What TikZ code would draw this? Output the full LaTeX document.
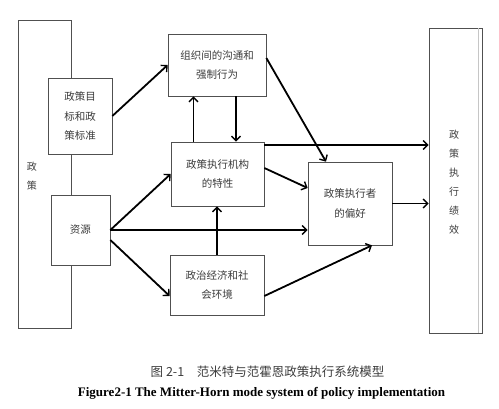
\documentclass[tikz,border=0pt]{standalone}
\usepackage{fontspec}
\setmainfont{Liberation Serif}
\newfontfamily\cjk{Noto Sans CJK SC}
\definecolor{boxgray}{RGB}{80, 80, 80}
\definecolor{txtgray}{RGB}{60, 60, 60}
\usetikzlibrary{arrows.meta, positioning, calc}

\begin{document}
\begin{tikzpicture}[x=1pt, y=-1pt,
  box/.style={draw=boxgray, fill=white, line width=0.7pt, inner sep=0pt, align=center,
    text=txtgray, font=\cjk\fontsize{10.5}{19.5}\selectfont},
  lbl/.style={text=txtgray, align=center, font=\cjk\fontsize{10}{19.5}\selectfont},
  arr/.style={line width=1.8pt, -{Straight Barb[length=4.5pt, width=9pt, line width=1.4pt]}}]
  \useasboundingbox (0,0) rectangle (499,408);
  % the two long bars
  \node[box, minimum width=53pt, minimum height=308pt] (policy) at (44.5,174) {};
  \node[lbl] (policylbl) at (32,176) {政\\策};
  \node[box, minimum width=53pt, minimum height=305pt] (perf) at (455.5,180.5) {};
  \draw[gray!45, line width=0.6pt] ([xshift=-4pt]perf.north east) -- ([xshift=-4pt]perf.south east);
  \node[lbl, font=\cjk\fontsize{10}{19}\selectfont] (perflbl) at (454,182) {政\\策\\执\\行\\绩\\效};
  % inner boxes
  \node[box, minimum width=64pt, minimum height=76pt] (goal) at (80,116) {政策目\\标和政\\策标准};
  \node[box, minimum width=59pt, minimum height=70pt] (res) at (80.5,230) {资源};
  \node[box, minimum width=98pt, minimum height=62pt] (comm) at (217,65) {组织间的沟通和\\强制行为};
  \node[box, minimum width=93pt, minimum height=64pt] (org) at (217.5,174) {政策执行机构\\的特性};
  \node[box, minimum width=94pt, minimum height=60pt] (env) at (217,285) {政治经济和社\\会环境};
  \node[box, minimum width=84pt, minimum height=83pt] (pref) at (350,203.5) {政策执行者\\的偏好};
  % arrows
  \draw[arr] (goal.east) -- (comm.west);
  \draw[arr] ([xshift=-24pt]org.north) -- ([xshift=-24pt]org.north |- comm.south);
  \draw[arr] ([xshift=19pt]comm.south) -- ([xshift=19pt]comm.south |- org.north);
  \draw[arr] ([yshift=7pt]comm.east) -- ([xshift=-24pt]pref.north);
  \draw[arr] ([yshift=29pt]org.east) -- ([yshift=29pt]org.east -| perf.west);
  \draw[arr] ([yshift=6pt]org.east) -- ([yshift=15.5pt]pref.west);
  \draw[arr] (res.east) -- (org.west);
  \draw[arr] (res.east) -- (res.east -| pref.west);
  \draw[arr] ([yshift=-10pt]res.east) -- ([yshift=-11pt]env.west);
  \draw[arr] (env.north) -- (env.north |- org.south);
  \draw[arr] ([yshift=-11pt]env.east) -- ([xshift=22pt]pref.south);
  \draw[arr] (pref.east) -- (pref.east -| perf.west);
  % caption
  \node[text=txtgray, font=\cjk\fontsize{12.5}{13}\selectfont] (capcn) at (267.5,372) {图 2-1\quad 范米特与范霍恩政策执行系统模型};
  \node[font=\bfseries\fontsize{13}{14}\selectfont] (capen) at (261.5,393) {Figure2-1 The Mitter-Horn mode system of policy implementation};
\end{tikzpicture}
\end{document}
